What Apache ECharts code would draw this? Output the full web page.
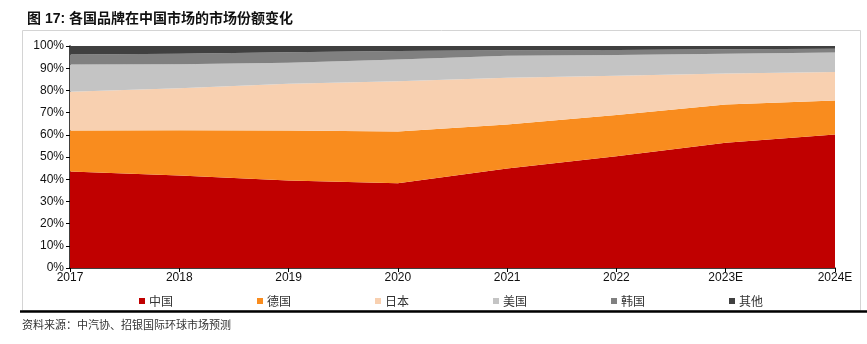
<!DOCTYPE html>
<html>
<head>
<meta charset="utf-8">
<script src="https://cdn.jsdelivr.net/npm/echarts@6/dist/echarts.min.js"></script>
<style>
  html, body { margin: 0; padding: 0; background: #fff; }
  #chart { width: 867px; height: 344px; }
</style>
</head>
<body>
<div id="chart"></div>
<script>
// Market share (%) of brands by country in the Chinese car market
const years = ['2017', '2018', '2019', '2020', '2021', '2022', '2023E', '2024E'];
const china   = [43.5, 41.7, 39.4, 38.2, 44.8, 50.3, 56.4, 60.1];
const germany = [18.4, 20.3, 22.5, 23.3, 19.8, 18.6, 17.2, 15.4];
const japan   = [17.5, 19.0, 21.1, 22.6, 21.1, 17.7, 14.0, 12.8];
const usa     = [12.3, 10.8, 9.4, 9.8, 9.9, 9.3, 8.9, 8.8];
const korea   = [4.5, 4.7, 4.8, 3.9, 2.5, 2.3, 2.0, 1.7];
const others  = [3.8, 3.5, 2.8, 2.2, 1.9, 1.8, 1.5, 1.2];
const yTicks  = [0, 10, 20, 30, 40, 50, 60, 70, 80, 90, 100];

const seriesDefs = [
  { name: '中国', data: china,   color: '#C00000' },
  { name: '德国', data: germany, color: '#F98C1E' },
  { name: '日本', data: japan,   color: '#F8D0B0' },
  { name: '美国', data: usa,     color: '#C4C4C4' },
  { name: '韩国', data: korea,   color: '#808080' },
  { name: '其他', data: others,  color: '#404040' }
];

const latin = '"Liberation Sans", Arial, "Noto Sans CJK SC", sans-serif';
const cjk = '"Noto Sans CJK SC", "Liberation Sans", sans-serif';

const chart = echarts.init(document.getElementById('chart'));
chart.setOption({
  animation: false,
  backgroundColor: '#fff',
  title: {
    text: '图 17: 各国品牌在中国市场的市场份额变化',
    left: 22,
    top: 7,
    textStyle: { fontSize: 14, fontWeight: 'bold', color: '#111', fontFamily: latin }
  },
  graphic: [
    {
      type: 'rect', silent: true, z: -1,
      shape: { x: 22.5, y: 30.5, width: 838, height: 280 },
      style: { fill: 'none', stroke: '#d4d4d4', lineWidth: 1 }
    },
    {
      type: 'line', silent: true,
      shape: { x1: 20, y1: 311.5, x2: 867, y2: 311.5 },
      style: { stroke: '#000', lineWidth: 2.5 }
    },
    {
      type: 'text', silent: true,
      left: 22, top: 319,
      style: { text: '资料来源：中汽协、招银国际环球市场预测', fontSize: 11, fill: '#333', fontFamily: cjk }
    }
  ],
  legend: {
    left: 134,
    top: 290,
    icon: 'rect',
    itemWidth: 6,
    itemHeight: 6,
    itemGap: 84,
    textStyle: { fontSize: 12, color: '#333', fontFamily: cjk, padding: [0, 0, 0, -1] },
    data: seriesDefs.map(s => s.name)
  },
  grid: { left: 70, right: 32, top: 46, bottom: 76, containLabel: false },
  xAxis: {
    type: 'category',
    boundaryGap: false,
    data: years,
    axisLine: { lineStyle: { color: '#000', width: 1.5 } },
    axisTick: { show: true, length: 4, lineStyle: { color: '#000' } },
    axisLabel: { color: '#111', fontSize: 12, fontFamily: latin, margin: 4 },
    splitLine: { show: false }
  },
  yAxis: {
    type: 'value',
    min: yTicks[0],
    max: yTicks[yTicks.length - 1],
    interval: 10,
    axisLine: { show: true, lineStyle: { color: '#000', width: 1.5 } },
    axisTick: { show: true, length: 4, lineStyle: { color: '#000' } },
    axisLabel: { color: '#111', fontSize: 12, fontFamily: latin, margin: 6, formatter: '{value}%' },
    splitLine: { show: false }
  },
  series: seriesDefs.map(s => ({
    name: s.name,
    type: 'line',
    stack: 'share',
    data: s.data,
    symbol: 'none',
    lineStyle: { width: 0 },
    itemStyle: { color: s.color },
    areaStyle: { color: s.color, opacity: 1 }
  }))
});
</script>
</body>
</html>
